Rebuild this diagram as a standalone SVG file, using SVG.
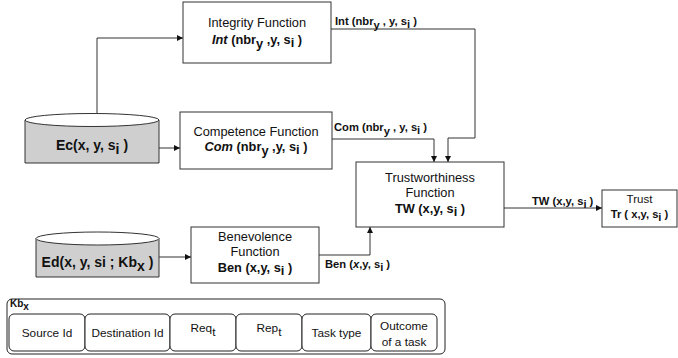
<svg xmlns="http://www.w3.org/2000/svg" width="678" height="358" viewBox="0 0 678 358">
<style>
text{font-family:"Liberation Sans",Arial,sans-serif;fill:#111;}
.t{font-size:12.8px;text-anchor:middle;}
.b{font-weight:bold;}
.lbl{font-size:11.2px;font-weight:bold;}
.box{fill:#fff;stroke:#333;stroke-width:1;}
.cyl{fill:#cfcfcf;stroke:#333;stroke-width:1;}
.cell{fill:#fff;stroke:#222;stroke-width:1;}
.ln{fill:none;stroke:#333;stroke-width:1;}
.c{font-size:11.8px;text-anchor:middle;}
</style>
<defs>
<marker id="ah" viewBox="0 0 10 10" refX="10" refY="5" markerWidth="6" markerHeight="6" orient="auto" markerUnits="userSpaceOnUse">
<path d="M0,0 L10,5 L0,10 z" fill="#111"/>
</marker>
</defs>

<g id="connectors">
<path class="ln" d="M97,114 V38 H183" marker-end="url(#ah)"/>
<path class="ln" d="M159,148 H180" marker-end="url(#ah)"/>
<path class="ln" d="M331,29 H475 V138 H448 V162" marker-end="url(#ah)"/>
<path class="ln" d="M332,139 H434 V162" marker-end="url(#ah)"/>
<path class="ln" d="M159,257 H191" marker-end="url(#ah)"/>
<path class="ln" d="M319,255 H370 V227" marker-end="url(#ah)"/>
<path class="ln" d="M504,208 H602" marker-end="url(#ah)"/>
<text class="lbl" x="335" y="25">Int (nbr<tspan dy="4">y</tspan><tspan dy="-4"> , y, s</tspan><tspan dy="3">i</tspan><tspan dy="-3"> )</tspan></text>
<text class="lbl" x="334" y="131">Com (nbr<tspan dy="4">y</tspan><tspan dy="-4"> , y, s</tspan><tspan dy="3">i</tspan><tspan dy="-3"> )</tspan></text>
<text class="lbl" x="532" y="205">TW (x,y, s<tspan dy="3">i</tspan><tspan dy="-3"> )</tspan></text>
<text class="lbl" x="325" y="268">Ben (<tspan font-style="italic">x</tspan>,y, s<tspan dy="3">i</tspan><tspan dy="-3"> )</tspan></text>
</g>

<g id="integrity">
<rect class="box" x="183" y="2" width="148" height="61"/>
<text class="t" x="257" y="27">Integrity Function</text>
<text class="t b" x="257" y="44"><tspan font-style="italic">Int</tspan> (nbr<tspan dy="4">y</tspan><tspan dy="-4"> ,y, s</tspan><tspan dy="3">i</tspan><tspan dy="-3"> )</tspan></text>
</g>

<g id="ec">
<path class="cyl" d="M25,120 V163 H159 V120"/>
<ellipse cx="92" cy="120" rx="67" ry="6.5" fill="#fff" stroke="#333"/>
<text x="92" y="150" font-size="14" font-weight="bold" text-anchor="middle">Ec(x, y, s<tspan dy="4">i</tspan><tspan dy="-4"> )</tspan></text>
</g>

<g id="competence">
<rect class="box" x="180" y="112" width="152" height="57"/>
<text class="t" x="256" y="136">Competence Function</text>
<text class="t b" x="256" y="151"><tspan font-style="italic">Com</tspan> (nbr<tspan dy="4">y</tspan><tspan dy="-4"> ,y, s</tspan><tspan dy="3">i</tspan><tspan dy="-3"> )</tspan></text>
</g>

<g id="trustworthiness">
<rect class="box" x="356" y="162" width="148" height="65"/>
<text class="t" x="430" y="182">Trustworthiness</text>
<text class="t" x="430" y="197">Function</text>
<text class="t b" x="430" y="213">TW (x,y, s<tspan dy="3">i</tspan><tspan dy="-3"> )</tspan></text>
</g>

<g id="trust">
<rect class="box" x="602" y="190" width="75" height="37"/>
<text x="639.5" y="203" font-size="11.5" text-anchor="middle">Trust</text>
<text x="639.5" y="218" font-size="11.2" font-weight="bold" text-anchor="middle">Tr ( x,y, s<tspan dy="3">i</tspan><tspan dy="-3"> )</tspan></text>
</g>

<g id="ed">
<path class="cyl" d="M36,238.5 V277 H159 V238.5"/>
<ellipse cx="97.5" cy="238.5" rx="61.5" ry="6.5" fill="#fff" stroke="#333"/>
<text x="97.5" y="267" font-size="14" font-weight="bold" text-anchor="middle">Ed(x, y, si ; Kb<tspan dy="4">x</tspan><tspan dy="-4"> )</tspan></text>
</g>

<g id="benevolence">
<rect class="box" x="191" y="227" width="128" height="56"/>
<text class="t" x="255" y="241">Benevolence</text>
<text class="t" x="255" y="256">Function</text>
<text class="t b" x="255" y="272">Ben (x,y, s<tspan dy="3">i</tspan><tspan dy="-3"> )</tspan></text>
</g>

<g id="kb">
<rect x="7" y="299" width="438" height="55" rx="5" fill="#fff" stroke="#222"/>
<text x="10" y="307" font-size="10" font-weight="bold">Kb<tspan dy="3">x</tspan></text>
<rect class="cell" x="9" y="314" width="76" height="37" rx="5"/>
<rect class="cell" x="85" y="314" width="85" height="37" rx="5"/>
<rect class="cell" x="170" y="314" width="66" height="37" rx="5"/>
<rect class="cell" x="236" y="314" width="66" height="37" rx="5"/>
<rect class="cell" x="302" y="314" width="69" height="37" rx="5"/>
<rect class="cell" x="371" y="314" width="66" height="37" rx="5"/>
<text class="c" x="47" y="337">Source Id</text>
<text class="c" x="127.5" y="337">Destination Id</text>
<text class="c" x="203" y="332">Req<tspan dy="4">t</tspan></text>
<text class="c" x="269" y="332">Rep<tspan dy="4">t</tspan></text>
<text class="c" x="336.5" y="337">Task type</text>
<text class="c" x="404" y="330">Outcome</text>
<text class="c" x="404" y="346">of a task</text>
</g>
</svg>
